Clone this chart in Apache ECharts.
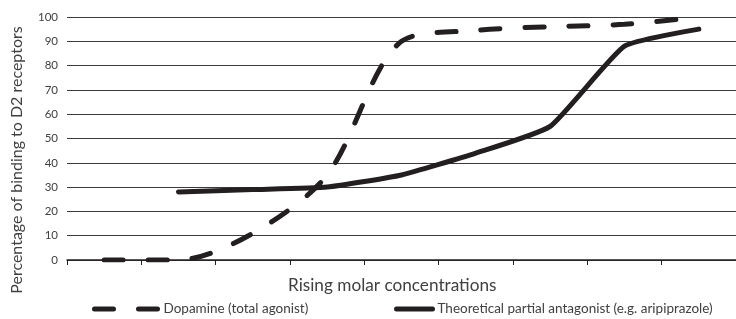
<!DOCTYPE html>
<html>
<head>
<meta charset="utf-8">
<script src="https://cdn.jsdelivr.net/npm/echarts@6/dist/echarts.min.js"></script>
<style>
  html, body { margin: 0; padding: 0; background: #fff; }
  #chart { width: 736px; height: 319px; }
</style>
</head>
<body>
<div id="chart"></div>
<script>
// concentration steps (unlabelled on the x axis)
const steps = ['1', '2', '3', '4', '5', '6', '7', '8', '9'];
// % binding
const dopamine = [0, 0, 11, 35, 90, 94.5, 96, 97, 100];
const partial = [null, 28, 29, 30, 35, 44, 55, 88, 95];
const yTicks = [0, 10, 20, 30, 40, 50, 60, 70, 80, 90, 100];

const ink = '#231f20';
const textColor = '#404040';
const font = 'Lato';
const dash = [19, 25];

const chart = echarts.init(document.getElementById('chart'));
chart.setOption({
    animation: false,
    grid: { left: 67, top: 17, width: 680, height: 243, containLabel: false },
    xAxis: {
        type: 'category',
        data: steps,
        boundaryGap: true,
        axisLine: { lineStyle: { color: ink, width: 1.5 } },
        axisTick: { show: true, length: 5, lineStyle: { color: ink } },
        axisLabel: { show: false }
    },
    yAxis: {
        type: 'value',
        min: yTicks[0],
        max: yTicks[yTicks.length - 1],
        interval: 10,
        axisLine: { show: false },
        axisTick: { show: false },
        axisLabel: { color: textColor, fontFamily: font, fontSize: 11.5, margin: 9 },
        splitLine: { lineStyle: { color: '#3a3a3a', width: 1.2 } }
    },
    legend: [
        {
            data: ['Dopamine (total agonist)'],
            left: 87, top: 297,
            itemWidth: 64, itemHeight: 14, itemGap: 8,
            itemStyle: { opacity: 0 },
            lineStyle: { width: 5, type: dash, cap: 'round', color: ink },
            textStyle: { color: textColor, fontFamily: font, fontSize: 13.5 }
        },
        {
            data: ['Theoretical partial antagonist (e.g. aripiprazole)'],
            left: 389, top: 297,
            itemWidth: 36, itemHeight: 14, itemGap: 9,
            itemStyle: { opacity: 0 },
            lineStyle: { width: 5, cap: 'round', color: ink },
            textStyle: { color: textColor, fontFamily: font, fontSize: 13.5 }
        }
    ],
    graphic: [
        {
            type: 'text', left: 288, top: 277,
            style: { text: 'Rising molar concentrations', fill: textColor, font: '17.2px ' + font }
        },
        {
            type: 'text', x: 17, y: 160, rotation: Math.PI / 2,
            style: { text: 'Percentage of binding to D2 receptors', fill: textColor,
                     font: '16px ' + font, align: 'center', verticalAlign: 'middle' }
        }
    ],
    series: [
        {
            name: 'Dopamine (total agonist)',
            type: 'line',
            data: dopamine,
            smooth: 0.3,
            symbol: 'none',
            lineStyle: { color: ink, width: 5, type: dash, cap: 'round' },
            itemStyle: { color: ink }
        },
        {
            name: 'Theoretical partial antagonist (e.g. aripiprazole)',
            type: 'line',
            data: partial,
            smooth: 0.15,
            symbol: 'none',
            connectNulls: false,
            lineStyle: { color: ink, width: 5, cap: 'round', join: 'round' },
            itemStyle: { color: ink }
        }
    ]
});
</script>
</body>
</html>
